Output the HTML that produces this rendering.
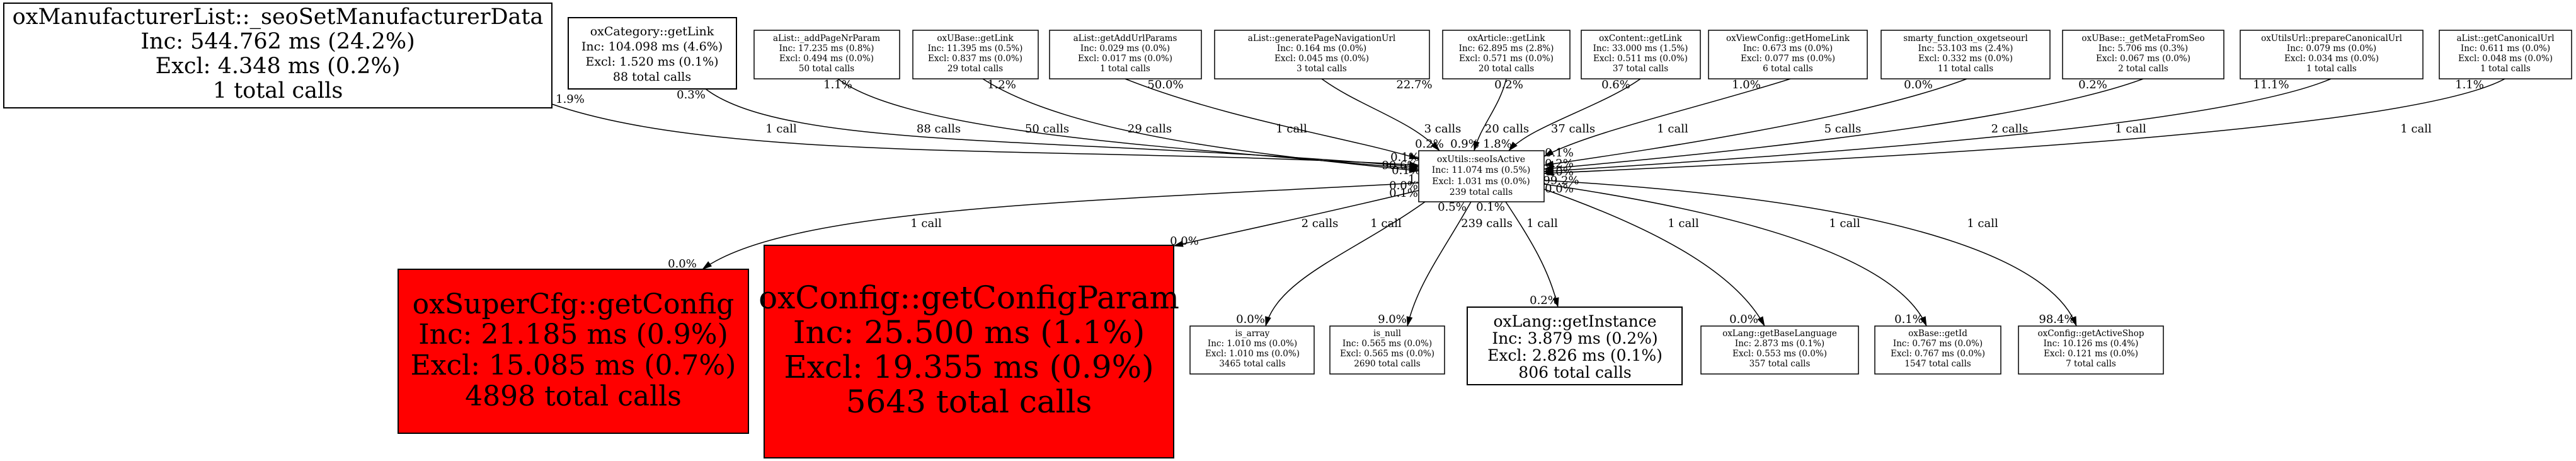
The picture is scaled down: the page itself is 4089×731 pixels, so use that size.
<!DOCTYPE html>
<html><head><meta charset="utf-8"><style>
html,body{margin:0;padding:0;background:#fff;}
svg{display:block;}
text{font-family:"DejaVu Serif","Liberation Serif",serif;fill:#000;}
</style></head><body>
<svg xmlns="http://www.w3.org/2000/svg" width="4089" height="731" viewBox="0 0 4089 731">
<defs>
<marker id="a" markerUnits="userSpaceOnUse" markerWidth="16" markerHeight="12" refX="15" refY="6" orient="auto">
<path d="M0,1 L16,6 L0,11 Z" fill="#000"/>
</marker>
</defs>
<rect width="4089" height="731" fill="#fff"/>

<!-- edges -->
<g fill="none" stroke="#000" stroke-width="1.5" marker-end="url(#a)">
<path d="M876,165 C1150,260 1700,230 2252,262"/>
<path d="M1120,141 C1250,240 1700,215 2252,265"/>
<path d="M1330,125 C1450,215 1900,235 2252,268"/>
<path d="M1560,125 C1700,215 2000,245 2252,271"/>
<path d="M1786,125 C1950,190 2150,220 2252,252"/>
<path d="M2098,125 C2160,170 2240,190 2285,239"/>
<path d="M2391,125 C2380,170 2350,200 2340,239"/>
<path d="M2604,125 C2540,170 2430,200 2395,239"/>
<path d="M2842,125 C2700,170 2520,210 2451,248"/>
<path d="M3122,125 C2950,190 2600,240 2451,262"/>
<path d="M3402,125 C3200,200 2650,250 2451,268"/>
<path d="M3700,125 C3500,210 2700,255 2451,272"/>
<path d="M3976,125 C3800,220 2750,260 2451,275"/>
<path d="M2252,290 C1700,320 1250,330 1115,427"/>
<path d="M2252,302 C2050,350 1950,370 1863,390"/>
<path d="M2262,320 C2150,400 2030,440 2009,517"/>
<path d="M2335,320 C2290,400 2250,450 2234,517"/>
<path d="M2390,320 C2430,380 2460,430 2473,487"/>
<path d="M2451,300 C2650,370 2760,440 2801,517"/>
<path d="M2451,292 C2850,350 3020,430 3058,517"/>
<path d="M2451,286 C3050,320 3260,420 3296,517"/>
</g>

<!-- edge labels -->
<g font-size="18" text-anchor="middle">
<text x="1240" y="210">1 call</text>
<text x="1490" y="210">88 calls</text>
<text x="1662" y="210">50 calls</text>
<text x="1825" y="210">29 calls</text>
<text x="2050" y="210">1 call</text>
<text x="2290" y="210">3 calls</text>
<text x="2392" y="210">20 calls</text>
<text x="2497" y="210">37 calls</text>
<text x="2655" y="210">1 call</text>
<text x="2925" y="210">5 calls</text>
<text x="3190" y="210">2 calls</text>
<text x="3382" y="210">1 call</text>
<text x="3835" y="210">1 call</text>
<text x="1470" y="360">1 call</text>
<text x="2095" y="360">2 calls</text>
<text x="2200" y="360">1 call</text>
<text x="2360" y="360">239 calls</text>
<text x="2448" y="360">1 call</text>
<text x="2672" y="360">1 call</text>
<text x="2928" y="360">1 call</text>
<text x="3147" y="360">1 call</text>
</g>
<g font-size="18" text-anchor="middle">
<text x="905" y="163">1.9%</text>
<text x="1097" y="156">0.3%</text>
<text x="1330" y="140">1.1%</text>
<text x="1590" y="140">1.2%</text>
<text x="1850" y="140">50.0%</text>
<text x="2245" y="140">22.7%</text>
<text x="2395" y="140">0.2%</text>
<text x="2565" y="140">0.6%</text>
<text x="2772" y="140">1.0%</text>
<text x="3045" y="140">0.0%</text>
<text x="3322" y="140">0.2%</text>
<text x="3605" y="140">11.1%</text>
<text x="3920" y="140">1.1%</text>
<text x="2269" y="234">0.2%</text>
<text x="2325" y="234">0.9%</text>
<text x="2377" y="234">1.8%</text>
<text x="2230" y="255">0.1%</text>
<text x="2222" y="268">90.6%</text>
<text x="2232" y="276">0.1%</text>
<text x="2275" y="268">3.1%</text>
<text x="2258" y="290">1.2%</text>
<text x="2228" y="300">0.0%</text>
<text x="2228" y="312">0.1%</text>
<text x="2475" y="248">0.1%</text>
<text x="2475" y="265">0.2%</text>
<text x="2475" y="278">0.0%</text>
<text x="2478" y="292">99.2%</text>
<text x="2475" y="305">0.0%</text>
<text x="2305" y="334">0.5%</text>
<text x="2366" y="334">0.1%</text>
<text x="1083" y="424">0.0%</text>
<text x="1880" y="388">0.0%</text>
<text x="1985" y="512">0.0%</text>
<text x="2210" y="512">9.0%</text>
<text x="2451" y="482">0.2%</text>
<text x="2768" y="512">0.0%</text>
<text x="3030" y="512">0.1%</text>
<text x="3265" y="512">98.4%</text>
</g>

<!-- main node -->
<rect x="6" y="5" width="870" height="166" fill="#fff" stroke="#000" stroke-width="2"/>
<g font-size="35" text-anchor="middle">
<text x="441" y="38">oxManufacturerList::_seoSetManufacturerData</text>
<text x="441" y="77">Inc: 544.762 ms (24.2%)</text>
<text x="441" y="116">Excl: 4.348 ms (0.2%)</text>
<text x="441" y="155">1 total calls</text>
</g>

<!-- oxCategory -->
<rect x="902" y="28" width="267" height="113" fill="#fff" stroke="#000" stroke-width="2"/>
<g font-size="19" text-anchor="middle">
<text x="1035" y="56">oxCategory::getLink</text>
<text x="1035" y="80">Inc: 104.098 ms (4.6%)</text>
<text x="1035" y="104">Excl: 1.520 ms (0.1%)</text>
<text x="1035" y="128">88 total calls</text>
</g>

<!-- small top nodes -->
<g font-size="13.5" text-anchor="middle">
<rect x="1197" y="48" width="231" height="77" fill="#fff" stroke="#000" stroke-width="1.5"/>
<text x="1312" y="65">aList::_addPageNrParam</text><text x="1312" y="81">Inc: 17.235 ms (0.8%)</text><text x="1312" y="97">Excl: 0.494 ms (0.0%)</text><text x="1312" y="113">50 total calls</text>
<rect x="1449" y="48" width="199" height="77" fill="#fff" stroke="#000" stroke-width="1.5"/>
<text x="1548" y="65">oxUBase::getLink</text><text x="1548" y="81">Inc: 11.395 ms (0.5%)</text><text x="1548" y="97">Excl: 0.837 ms (0.0%)</text><text x="1548" y="113">29 total calls</text>
<rect x="1666" y="48" width="241" height="77" fill="#fff" stroke="#000" stroke-width="1.5"/>
<text x="1786" y="65">aList::getAddUrlParams</text><text x="1786" y="81">Inc: 0.029 ms (0.0%)</text><text x="1786" y="97">Excl: 0.017 ms (0.0%)</text><text x="1786" y="113">1 total calls</text>
<rect x="1928" y="48" width="341" height="77" fill="#fff" stroke="#000" stroke-width="1.5"/>
<text x="2098" y="65">aList::generatePageNavigationUrl</text><text x="2098" y="81">Inc: 0.164 ms (0.0%)</text><text x="2098" y="97">Excl: 0.045 ms (0.0%)</text><text x="2098" y="113">3 total calls</text>
<rect x="2290" y="48" width="202" height="77" fill="#fff" stroke="#000" stroke-width="1.5"/>
<text x="2391" y="65">oxArticle::getLink</text><text x="2391" y="81">Inc: 62.895 ms (2.8%)</text><text x="2391" y="97">Excl: 0.571 ms (0.0%)</text><text x="2391" y="113">20 total calls</text>
<rect x="2510" y="48" width="189" height="77" fill="#fff" stroke="#000" stroke-width="1.5"/>
<text x="2604" y="65">oxContent::getLink</text><text x="2604" y="81">Inc: 33.000 ms (1.5%)</text><text x="2604" y="97">Excl: 0.511 ms (0.0%)</text><text x="2604" y="113">37 total calls</text>
<rect x="2712" y="48" width="252" height="77" fill="#fff" stroke="#000" stroke-width="1.5"/>
<text x="2838" y="65">oxViewConfig::getHomeLink</text><text x="2838" y="81">Inc: 0.673 ms (0.0%)</text><text x="2838" y="97">Excl: 0.077 ms (0.0%)</text><text x="2838" y="113">6 total calls</text>
<rect x="2986" y="48" width="268" height="77" fill="#fff" stroke="#000" stroke-width="1.5"/>
<text x="3120" y="65">smarty_function_oxgetseourl</text><text x="3120" y="81">Inc: 53.103 ms (2.4%)</text><text x="3120" y="97">Excl: 0.332 ms (0.0%)</text><text x="3120" y="113">11 total calls</text>
<rect x="3274" y="48" width="256" height="77" fill="#fff" stroke="#000" stroke-width="1.5"/>
<text x="3402" y="65">oxUBase::_getMetaFromSeo</text><text x="3402" y="81">Inc: 5.706 ms (0.3%)</text><text x="3402" y="97">Excl: 0.067 ms (0.0%)</text><text x="3402" y="113">2 total calls</text>
<rect x="3556" y="48" width="290" height="77" fill="#fff" stroke="#000" stroke-width="1.5"/>
<text x="3701" y="65">oxUtilsUrl::prepareCanonicalUrl</text><text x="3701" y="81">Inc: 0.079 ms (0.0%)</text><text x="3701" y="97">Excl: 0.034 ms (0.0%)</text><text x="3701" y="113">1 total calls</text>
<rect x="3872" y="48" width="210" height="77" fill="#fff" stroke="#000" stroke-width="1.5"/>
<text x="3977" y="65">aList::getCanonicalUrl</text><text x="3977" y="81">Inc: 0.611 ms (0.0%)</text><text x="3977" y="97">Excl: 0.048 ms (0.0%)</text><text x="3977" y="113">1 total calls</text>
</g>

<!-- center node -->
<rect x="2252" y="239" width="199" height="81" fill="#fff" stroke="#000" stroke-width="1.5"/>
<g font-size="14" text-anchor="middle">
<text x="2351" y="257">oxUtils::seoIsActive</text>
<text x="2351" y="274">Inc: 11.074 ms (0.5%)</text>
<text x="2351" y="292">Excl: 1.031 ms (0.0%)</text>
<text x="2351" y="309">239 total calls</text>
</g>

<!-- red nodes -->
<rect x="632" y="427" width="556" height="260" fill="#f00" stroke="#000" stroke-width="2"/>
<g font-size="44" text-anchor="middle">
<text x="910" y="497">oxSuperCfg::getConfig</text>
<text x="910" y="545">Inc: 21.185 ms (0.9%)</text>
<text x="910" y="594">Excl: 15.085 ms (0.7%)</text>
<text x="910" y="643">4898 total calls</text>
</g>
<rect x="1213" y="389" width="650" height="337" fill="#f00" stroke="#000" stroke-width="2"/>
<g font-size="50" text-anchor="middle">
<text x="1538" y="489">oxConfig::getConfigParam</text>
<text x="1538" y="544">Inc: 25.500 ms (1.1%)</text>
<text x="1538" y="599">Excl: 19.355 ms (0.9%)</text>
<text x="1538" y="654">5643 total calls</text>
</g>

<!-- getInstance -->
<rect x="2329" y="487" width="341" height="123" fill="#fff" stroke="#000" stroke-width="2"/>
<g font-size="25" text-anchor="middle">
<text x="2500" y="518">oxLang::getInstance</text>
<text x="2500" y="545">Inc: 3.879 ms (0.2%)</text>
<text x="2500" y="572">Excl: 2.826 ms (0.1%)</text>
<text x="2500" y="599">806 total calls</text>
</g>

<!-- small bottom nodes -->
<g font-size="13.5" text-anchor="middle">
<rect x="1889" y="517" width="197" height="76" fill="#fff" stroke="#000" stroke-width="1.5"/>
<text x="1988" y="533">is_array</text><text x="1988" y="549">Inc: 1.010 ms (0.0%)</text><text x="1988" y="565">Excl: 1.010 ms (0.0%)</text><text x="1988" y="581">3465 total calls</text>
<rect x="2111" y="517" width="182" height="76" fill="#fff" stroke="#000" stroke-width="1.5"/>
<text x="2202" y="533">is_null</text><text x="2202" y="549">Inc: 0.565 ms (0.0%)</text><text x="2202" y="565">Excl: 0.565 ms (0.0%)</text><text x="2202" y="581">2690 total calls</text>
<rect x="2700" y="517" width="250" height="76" fill="#fff" stroke="#000" stroke-width="1.5"/>
<text x="2825" y="533">oxLang::getBaseLanguage</text><text x="2825" y="549">Inc: 2.873 ms (0.1%)</text><text x="2825" y="565">Excl: 0.553 ms (0.0%)</text><text x="2825" y="581">357 total calls</text>
<rect x="2976" y="517" width="200" height="76" fill="#fff" stroke="#000" stroke-width="1.5"/>
<text x="3076" y="533">oxBase::getId</text><text x="3076" y="549">Inc: 0.767 ms (0.0%)</text><text x="3076" y="565">Excl: 0.767 ms (0.0%)</text><text x="3076" y="581">1547 total calls</text>
<rect x="3204" y="517" width="230" height="76" fill="#fff" stroke="#000" stroke-width="1.5"/>
<text x="3319" y="533">oxConfig::getActiveShop</text><text x="3319" y="549">Inc: 10.126 ms (0.4%)</text><text x="3319" y="565">Excl: 0.121 ms (0.0%)</text><text x="3319" y="581">7 total calls</text>
</g>
</svg>
</body></html>
